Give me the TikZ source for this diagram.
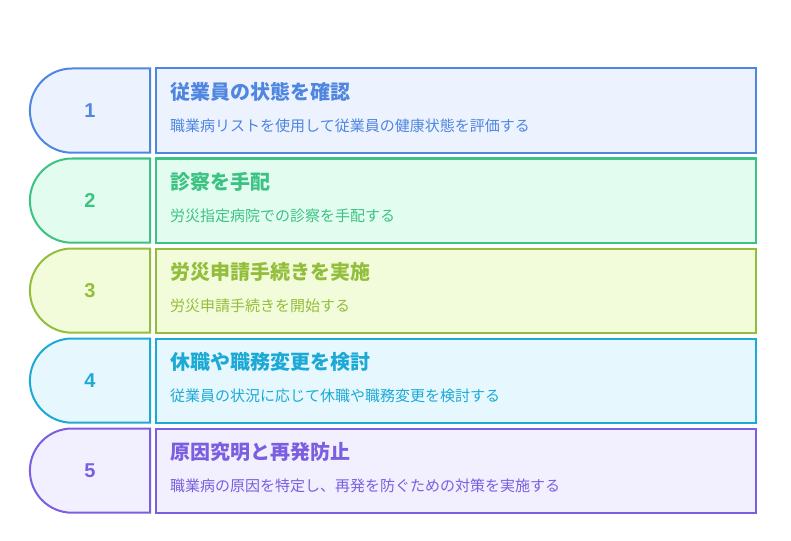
\documentclass[tikz,border=0pt]{standalone}
\usepackage{fontspec}
\setmainfont{Noto Sans CJK JP}
\newfontfamily\numfont{Liberation Sans}
\definecolor{s1}{HTML}{4F86E0}\definecolor{f1}{HTML}{EDF3FE}
\definecolor{s2}{HTML}{3CC283}\definecolor{f2}{HTML}{E2FCEF}
\definecolor{s3}{HTML}{93BE3B}\definecolor{f3}{HTML}{F3FCDA}
\definecolor{s4}{HTML}{1DA9D6}\definecolor{f4}{HTML}{E6F8FE}
\definecolor{s5}{HTML}{7B5FE0}\definecolor{f5}{HTML}{F2EFFE}
\tikzset{
  boxline/.style={line width=2pt},
  titletext/.style={anchor=base west, inner sep=0pt, font=\fontsize{20}{22}\selectfont\bfseries},
  desctext/.style={anchor=base west, inner sep=0pt, font=\fontsize{15}{17}\selectfont},
  numtext/.style={anchor=base, inner sep=0pt, font=\numfont\bfseries\fontsize{20}{22}\selectfont},
}
\begin{document}
\begin{tikzpicture}[x=1pt,y=-1pt]
\useasboundingbox[fill=white] (0,0) rectangle (791,540);
\foreach \i/\s/\f in {0/s1/f1,1/s2/f2,2/s3/f3,3/s4/f4,4/s5/f5}{
  \pgfmathsetmacro{\dy}{90*\i}
  \draw[boxline, draw=\s, fill=\f] (150,68.5+\dy) -- (72,68.5+\dy) arc[start angle=-90, end angle=-270, radius=42.1] -- (150,152.7+\dy) -- cycle;
  \draw[boxline, draw=\s, fill=\f] (155.7,68.5+\dy) rectangle (756,152.7+\dy);
}
\node[numtext, text=s1] (n1) at (90,117.8) {1};
\node[numtext, text=s2] (n2) at (90,207.8) {2};
\node[numtext, text=s3] (n3) at (90,297.8) {3};
\node[numtext, text=s4] (n4) at (90,387.8) {4};
\node[numtext, text=s5] (n5) at (90,477.8) {5};
\node[titletext, text=s1] (t1) at (170,99.5) {従業員の状態を確認};
\node[titletext, text=s2] (t2) at (170,189.5) {診察を手配};
\node[titletext, text=s3] (t3) at (170,279.5) {労災申請手続きを実施};
\node[titletext, text=s4] (t4) at (170,369.5) {休職や職務変更を検討};
\node[titletext, text=s5] (t5) at (170,459.5) {原因究明と再発防止};
\node[desctext, text=s1] (d1) at (170,131.5) {職業病リストを使用して従業員の健康状態を評価する};
\node[desctext, text=s2] (d2) at (170,221.5) {労災指定病院での診察を手配する};
\node[desctext, text=s3] (d3) at (170,311.5) {労災申請手続きを開始する};
\node[desctext, text=s4] (d4) at (170,401.5) {従業員の状況に応じて休職や職務変更を検討する};
\node[desctext, text=s5] (d5) at (170,491.5) {職業病の原因を特定し、再発を防ぐための対策を実施する};
\end{tikzpicture}
\end{document}
